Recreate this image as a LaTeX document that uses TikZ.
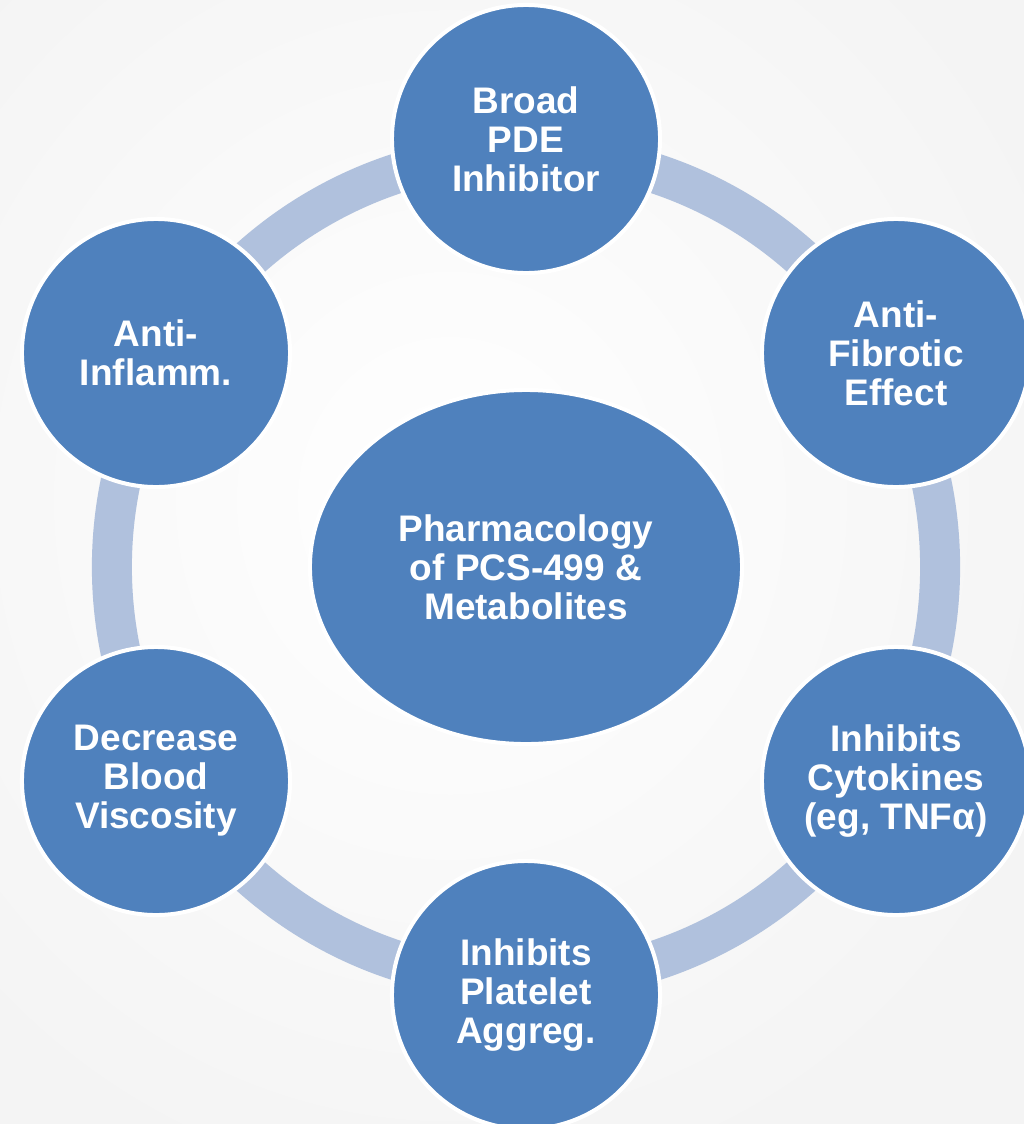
\documentclass[tikz,border=0pt]{standalone}
\usepackage{fontspec}
\setmainfont{Liberation Sans}
\usetikzlibrary{shapes.geometric}
\definecolor{bubbleblue}{HTML}{4F81BD}
\definecolor{ringblue}{HTML}{B0C1DD}
\begin{document}
\begin{tikzpicture}[x=0.025cm, y=-0.025cm,
		bubble/.style={circle, fill=bubbleblue, draw=white, line width=0.1cm, minimum size=6.7cm, inner sep=0pt, align=center, text=white, font=\fontsize{26.3}{27.7}\selectfont\bfseries},
		hubnode/.style={bubble, ellipse, minimum width=10.8cm, minimum height=8.85cm},
		ring/.style={ringblue, line width=1cm}]
	% background
	\useasboundingbox (0, 0) rectangle (1024, 1124);
	\begin{scope}
		\clip (0, 0) rectangle (1024, 1124);
		\shade[inner color=white, outer color=gray!9] (-250, -250) rectangle (1150, 1250);
	\end{scope}
	% centre and ring
	\coordinate (mid) at (526, 567);
	\draw[ring] (mid) circle[radius=10.35cm];
	\node[hubnode] (hub) at (mid) {Pharmacology\\of PCS-499 \&\\Metabolites};
	% outer bubbles
	\node[bubble] (pde) at (526, 139) {Broad\\PDE\\Inhibitor};
	\node[bubble] (fibrotic) at (896, 353) {Anti-\\Fibrotic\\Effect};
	\node[bubble] (cytokines) at (896, 781) {Inhibits\\Cytokines\\(eg, TNFα)};
	\node[bubble] (platelet) at (526, 995) {Inhibits\\Platelet\\Aggreg.};
	\node[bubble] (viscosity) at (156, 781) {Decrease\\Blood\\Viscosity};
	\node[bubble] (inflamm) at (156, 353) {Anti-\\Inflamm.};
\end{tikzpicture}
\end{document}
